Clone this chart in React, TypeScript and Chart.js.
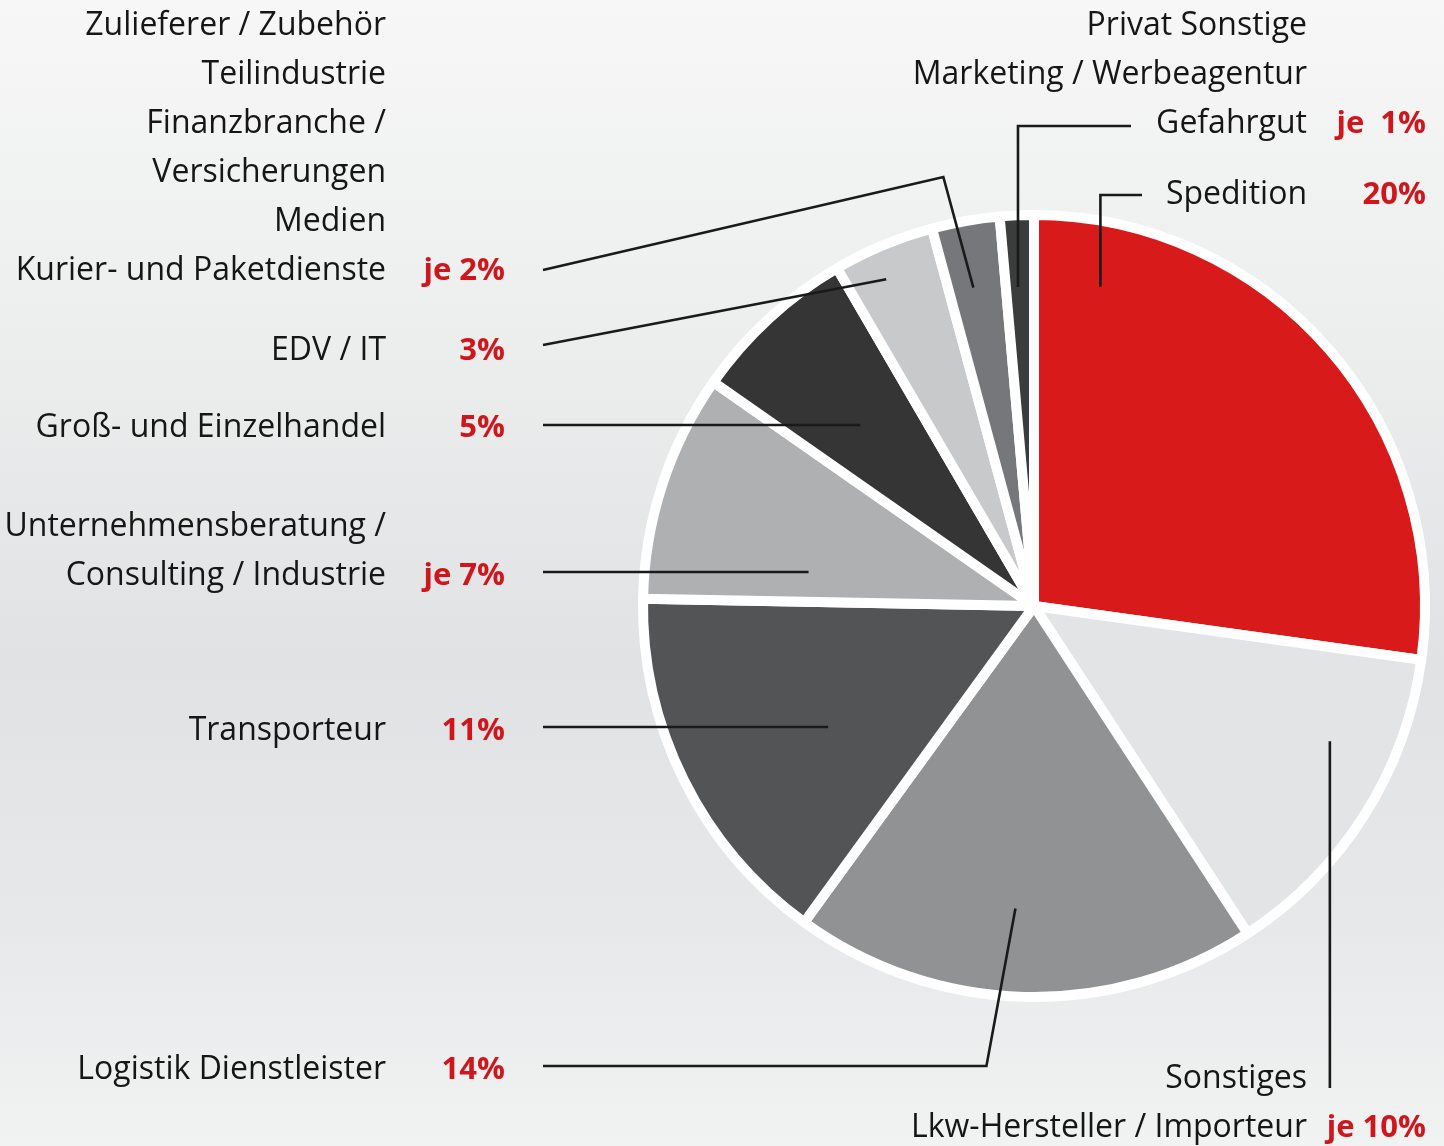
import React, { useEffect, useRef } from 'react';
import { Chart, registerables } from 'chart.js';

Chart.register(...registerables);

const W = 1444;
const H = 1146;

// Slices, clockwise from 12 o'clock
const sectors = [
  'Spedition',
  'Sonstiges / Lkw-Hersteller / Importeur',
  'Logistik Dienstleister',
  'Transporteur',
  'Unternehmensberatung / Consulting / Industrie',
  'Groß- und Einzelhandel',
  'EDV / IT',
  'Zulieferer / Zubehör / Teilindustrie / Finanzbranche / Versicherungen / Medien / Kurier- und Paketdienste',
  'Privat Sonstige / Marketing / Werbeagentur / Gefahrgut',
];
const sliceValues = [27.2, 13.6, 19.2, 15.3, 9.4, 6.9, 4.2, 2.8, 1.4];
const sliceColors = ['#d91a1a', '#e3e4e5', '#919294', '#535456', '#afb0b2', '#353535', '#c8c9cb', '#76777a', '#3b3c3c'];

const labelLines = [
  ['Spedition'],
  ['Sonstiges', 'Lkw-Hersteller / Importeur'],
  ['Logistik Dienstleister'],
  ['Transporteur'],
  ['Unternehmensberatung /', 'Consulting / Industrie'],
  ['Groß- und Einzelhandel'],
  ['EDV / IT'],
  ['Zulieferer / Zubehör', 'Teilindustrie', 'Finanzbranche /', 'Versicherungen', 'Medien', 'Kurier- und Paketdienste'],
  ['Privat Sonstige', 'Marketing / Werbeagentur', 'Gefahrgut'],
];
const percentLabels = ['20%', 'je 10%', '14%', '11%', 'je 7%', '5%', '3%', 'je 2%', 'je  1%'];

// Layout of labels and leader lines (positions / styling only)
const LINE_H = 49;
const LEFT_TEXT_X = 386;
const LEFT_PCT_X = 505;
const RIGHT_TEXT_X = 1307;
const RIGHT_PCT_X = 1426;
const LEFT_LINE_X = 543;

type Cfg = {
  side: 'left' | 'right';
  lastBaseline: number;
  kind: 'hv' | 'h' | 'direct' | 'kink' | 'v';
  lineY?: number;
  fromX?: number;
  kinkY?: number;
  kinkDx?: number;
  toY?: number;
  t: number;
  rf: number;
};

const layoutCfg: Cfg[] = [
  { side: 'right', lastBaseline: 204, kind: 'hv', fromX: 1142, lineY: 195, t: 0.12, rf: 0.834 },
  { side: 'right', lastBaseline: 1137, kind: 'v', toY: 1088, t: 0.34, rf: 0.832 },
  { side: 'left', lastBaseline: 1079, kind: 'kink', fromX: LEFT_LINE_X, lineY: 1066, kinkY: 1066, kinkDx: -29, t: 0.53, rf: 0.775 },
  { side: 'left', lastBaseline: 740, kind: 'h', fromX: LEFT_LINE_X, lineY: 727, t: 0.43, rf: 0.61 },
  { side: 'left', lastBaseline: 585, kind: 'h', fromX: LEFT_LINE_X, lineY: 572, t: 0.22, rf: 0.583 },
  { side: 'left', lastBaseline: 437, kind: 'h', fromX: LEFT_LINE_X, lineY: 425, t: 0.45, rf: 0.641 },
  { side: 'left', lastBaseline: 360, kind: 'direct', fromX: LEFT_LINE_X, lineY: 345, t: 0.39, rf: 0.917 },
  { side: 'left', lastBaseline: 280, kind: 'kink', fromX: LEFT_LINE_X, lineY: 270, kinkY: 177, kinkDx: -30, t: 0.43, rf: 0.829 },
  { side: 'right', lastBaseline: 133, kind: 'hv', fromX: 1131, lineY: 126, t: 0.43, rf: 0.817 },
];

const TEXT_FONT = '32px "Open Sans", "Noto Sans", sans-serif';
const PCT_FONT = 'bold 31px "Open Sans", "Noto Sans", sans-serif';
const TEXT_COLOR = '#161616';
const PCT_COLOR = '#d0161d';

const labelPlugin = {
  id: 'sideLabels',
  afterDraw(chart: any) {
    const ctx: CanvasRenderingContext2D = chart.ctx;
    const meta = chart.getDatasetMeta(0);
    ctx.save();
    meta.data.forEach((arc: any, i: number) => {
      const p = arc.getProps(['x', 'y', 'startAngle', 'endAngle', 'outerRadius'], true);
      const cfg = layoutCfg[i];
      const a = p.startAngle + cfg.t * (p.endAngle - p.startAngle);
      const r = cfg.rf * p.outerRadius;
      const ax = p.x + Math.cos(a) * r;
      const ay = p.y + Math.sin(a) * r;

      // leader line
      ctx.strokeStyle = '#1a1a1a';
      ctx.lineWidth = 2.6;
      ctx.lineCap = 'butt';
      ctx.lineJoin = 'miter';
      ctx.beginPath();
      if (cfg.kind === 'hv') {
        ctx.moveTo(cfg.fromX!, cfg.lineY!);
        ctx.lineTo(ax, cfg.lineY!);
        ctx.lineTo(ax, ay);
      } else if (cfg.kind === 'h') {
        ctx.moveTo(cfg.fromX!, cfg.lineY!);
        ctx.lineTo(ax, cfg.lineY!);
      } else if (cfg.kind === 'direct') {
        ctx.moveTo(cfg.fromX!, cfg.lineY!);
        ctx.lineTo(ax, ay);
      } else if (cfg.kind === 'kink') {
        ctx.moveTo(cfg.fromX!, cfg.lineY!);
        ctx.lineTo(ax + cfg.kinkDx!, cfg.kinkY!);
        ctx.lineTo(ax, ay);
      } else if (cfg.kind === 'v') {
        ctx.moveTo(ax, ay);
        ctx.lineTo(ax, cfg.toY!);
      }
      ctx.stroke();

      // text lines
      const lines = labelLines[i];
      const textX = cfg.side === 'left' ? LEFT_TEXT_X : RIGHT_TEXT_X;
      const pctX = cfg.side === 'left' ? LEFT_PCT_X : RIGHT_PCT_X;
      ctx.textAlign = 'right';
      ctx.textBaseline = 'alphabetic';
      ctx.font = TEXT_FONT;
      ctx.fillStyle = TEXT_COLOR;
      lines.forEach((line, k) => {
        const y = cfg.lastBaseline - (lines.length - 1 - k) * LINE_H;
        ctx.fillText(line, textX, y);
      });
      ctx.font = PCT_FONT;
      ctx.fillStyle = PCT_COLOR;
      ctx.fillText(percentLabels[i], pctX, cfg.lastBaseline);
    });
    ctx.restore();
  },
};

export default function App() {
  const ref = useRef<HTMLCanvasElement | null>(null);
  useEffect(() => {
    if (!ref.current) return;
    const chart = new Chart(ref.current, {
      type: 'pie',
      data: {
        labels: sectors,
        datasets: [
          {
            data: sliceValues,
            backgroundColor: sliceColors,
            borderColor: '#ffffff',
            borderWidth: 10,
            hoverOffset: 0,
            offset: 0,
          } as any,
        ],
      },
      options: {
        responsive: false,
        maintainAspectRatio: false,
        animation: false,
        events: [],
        layout: { padding: { top: 210, bottom: 144, left: 638, right: 14 } },
        plugins: { legend: { display: false }, tooltip: { enabled: false } },
      },
      plugins: [labelPlugin],
    });
    return () => chart.destroy();
  }, []);

  return (
    <div
      style={{
        position: 'absolute',
        left: 0,
        top: 0,
        width: W,
        height: H,
        background:
          'linear-gradient(to bottom, #f7f7f7 0%, #eeefef 25%, #e1e2e3 58%, #e7e8e9 80%, #f1f2f2 100%)',
      }}
    >
      <canvas ref={ref} width={W} height={H} style={{ display: 'block', width: W, height: H }} />
    </div>
  );
}
